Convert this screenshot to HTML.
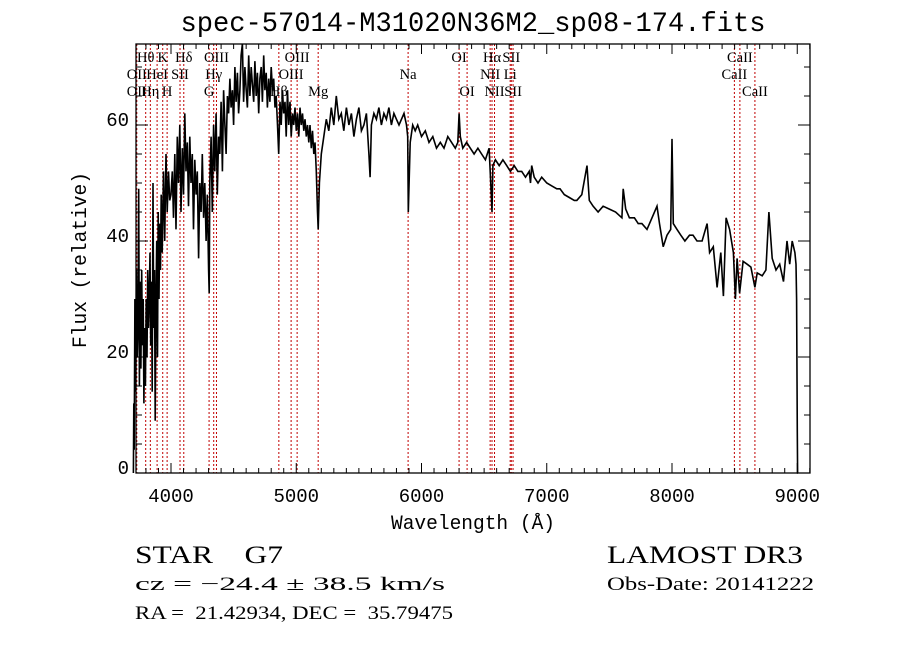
<!DOCTYPE html>
<html><head><meta charset="utf-8"><style>
html,body{margin:0;padding:0;background:#fff;}
svg{display:block;}
text{font-family:"Liberation Serif",serif;fill:#000;white-space:pre;}
.mono{font-family:"Liberation Mono",monospace;}
</style></head><body>
<svg id="chart" width="900" height="649" viewBox="0 0 900 649" xmlns="http://www.w3.org/2000/svg" xml:space="preserve">
<rect width="900" height="649" fill="#fff"/>
<text class="mono" x="473" y="31" font-size="28" text-anchor="middle" textLength="585" lengthAdjust="spacingAndGlyphs">spec-57014-M31020N36M2_sp08-174.fits</text>
<g id="lines"></g>
<g id="labels"></g>
<g id="series"></g>
<g id="axes"></g>
<text class="mono" x="473" y="529" font-size="20" text-anchor="middle" textLength="164" lengthAdjust="spacingAndGlyphs">Wavelength (Å)</text>
<text class="mono" font-size="20" text-anchor="middle" transform="translate(86,260) rotate(-90)" textLength="176" lengthAdjust="spacingAndGlyphs">Flux (relative)</text>
<text x="135" y="563" font-size="25" textLength="148" lengthAdjust="spacingAndGlyphs">STAR    G7</text>
<text x="135" y="590" font-size="19" textLength="310" lengthAdjust="spacingAndGlyphs">cz = −24.4 ± 38.5 km/s</text>
<text x="135" y="619" font-size="19" textLength="318" lengthAdjust="spacingAndGlyphs">RA =  21.42934, DEC =  35.79475</text>
<text x="607" y="563" font-size="25" textLength="196" lengthAdjust="spacingAndGlyphs">LAMOST DR3</text>
<text x="607" y="590" font-size="19" textLength="207" lengthAdjust="spacingAndGlyphs">Obs-Date: 20141222</text>
</svg>
<script>
const waves=[
3700,3703,3706,3712,3718,3724,3730,3736,3742,3748,
3754,3760,3766,3772,3778,3784,3790,3796,3802,3808,
3814,3820,3826,3832,3838,3844,3850,3856,3862,3868,
3874,3880,3886,3892,3898,3904,3910,3916,3922,3930,
3940,3950,3960,3970,3980,3990,4000,4010,4020,4030,
4040,4050,4060,4070,4080,4090,4100,4110,4120,4130,
4140,4150,4160,4170,4180,4190,4200,4210,4220,4230,
4240,4250,4260,4270,4280,4290,4300,4305,4310,4320,
4330,4340,4350,4360,4370,4380,4390,4400,4410,4420,
4430,4440,4450,4460,4470,4480,4490,4500,4510,4520,
4530,4540,4550,4560,4570,4580,4590,4600,4610,4620,
4630,4640,4650,4660,4670,4680,4690,4700,4710,4720,
4730,4740,4750,4760,4770,4780,4790,4800,4810,4820,
4830,4840,4850,4860,4870,4880,4890,4900,4910,4920,
4930,4940,4950,4960,4970,4980,4990,5000,5010,5020,
5030,5040,5050,5060,5070,5080,5090,5100,5110,5120,
5130,5140,5150,5160,5170,5175,5185,5200,5220,5240,
5260,5280,5300,5320,5340,5360,5380,5400,5420,5440,
5460,5480,5500,5520,5540,5560,5580,5590,5600,5620,
5640,5660,5680,5700,5720,5740,5760,5780,5800,5820,
5840,5860,5880,5890,5895,5910,5930,5950,5970,6000,
6030,6060,6090,6120,6150,6180,6210,6240,6270,6290,
6300,6310,6330,6360,6390,6420,6450,6480,6510,6540,
6555,6563,6570,6590,6620,6650,6680,6710,6740,6770,
6800,6830,6860,6870,6880,6900,6930,6960,7000,7040,
7080,7106,7140,7180,7220,7240,7280,7321,7340,7370,
7410,7450,7500,7550,7600,7610,7630,7660,7700,7730,
7760,7800,7840,7880,7900,7930,7960,7990,8000,8010,
8040,8070,8103,8140,8168,8200,8240,8280,8300,8330,
8360,8390,8410,8432,8460,8490,8506,8520,8540,8568,
8600,8630,8662,8680,8720,8750,8774,8800,8830,8860,
8890,8918,8940,8960,8981,8990,8995,9000,9003,9006];
const flux=[
0,12,4,30,14,35,20,25,49,15,
33,18,35,22,30,12,25,15,30,20,
35,25,30,38,22,33,14,50,25,35,
9,30,40,20,45,30,43,35,48,38,
52,40,55,45,52,47,48,52,44,55,
42,58,50,60,45,56,48,62,52,57,
46,58,50,55,42,54,48,52,37,50,
45,55,44,50,40,48,35,31,50,58,
45,60,52,62,48,58,55,64,52,66,
60,55,65,62,68,63,66,60,70,64,
69,62,66,72,74,64,70,66,63,72,
65,70,67,64,71,65,69,62,68,70,
64,72,66,69,63,68,64,70,66,68,
63,65,60,55,64,60,66,62,64,58,
66,60,64,58,62,60,63,59,62,58,
63,60,62,59,61,58,60,57,60,56,
59,55,57,52,45,42,50,55,58,61,
59,63,60,65,61,62,59,63,60,62,
58,61,63,59,60,62,55,51,60,62,
61,63,60,62,61,63,60,62,61,60,
61,62,60,58,45,57,60,59,60,58,
59,57,58,56,57,56,58,57,56,57,
62,58,56,57,56,55,56,55,54,56,
49,45,53,54,53,54,53,52,53,52,
52,51,52,50,53,51,50,51,50,49.5,
49,49,48,47.5,47,47,48,53,47,46,
45,46,45.5,45,44,49,45.5,44,44,43,
43,42,44,46,43,39,41,42,57.6,43,
42,41,40,41,41,40,40,43,38,39,
32,38,30.5,44,42,38,30,37,31,36.5,
36,35.5,32,34.5,34,35,45,37,35,36,
33,40,36,40,38,36,30,7,0,0];
const lineWaves=[3727,3798,3835,3889,3934,3969,4072,4102,4304,4341,4363,4861,4959,5007,5175,5893,6300,6364,6548,6563,6583,6708,6717,6731,8498,8542,8662];
const labelTexts=["Hθ","K","Hδ","OIII","OIII","OI","Hα","SII","CaII","OII","HeI","SII","Hγ","OIII","Na","NII","Li","CaII","OII","Hη","H","G","Hβ","Mg","OI","NII","SII","CaII"];
const labelWaves=[3798,3934,4102,4363,5007,6300,6563,6717,8542,3727,3889,4072,4341,4959,5893,6548,6708,8498,3727,3835,3969,4304,4861,5175,6364,6583,6731,8662];
const labelRows=[0,0,0,0,0,0,0,0,0,1,1,1,1,1,1,1,1,1,2,2,2,2,2,2,2,2,2,2];
const xTicks=[4000,5000,6000,7000,8000,9000];
const yTicks=[0,20,40,60];

const X0=136,X1=810,Y0=44,Y1=473;
const xs=w=>171+(w-4000)*0.12525;
const ys=v=>473-5.8*v;
const NS="http://www.w3.org/2000/svg";
function mk(tag,parent,attrs){const e=document.createElementNS(NS,tag);for(const k in attrs)e.setAttribute(k,attrs[k]);parent.appendChild(e);return e;}

const gL=document.getElementById('lines');
lineWaves.forEach(w=>{
  const l=mk('line',gL,{x1:xs(w),x2:xs(w),y1:Y0,y2:Y1,stroke:'#c00000','stroke-width':1,'stroke-dasharray':'2,2'});
  
  
});
const gT=document.getElementById('labels');
labelTexts.forEach((t,i)=>{
  const e=mk('text',gT,{x:xs(labelWaves[i]),y:62+labelRows[i]*17,'font-size':14.5,'text-anchor':'middle'});
  e.textContent=t;
  
  
});
const gS=document.getElementById('series');
const n=Math.min(waves.length,flux.length);
const pts=[];
for(let i=0;i<n;i++)pts.push(xs(waves[i]).toFixed(1)+','+ys(flux[i]).toFixed(1));
const pl=mk('polyline',gS,{points:pts.join(' '),fill:'none',stroke:'#000','stroke-width':1.6,'stroke-linejoin':'miter'});



const gA=document.getElementById('axes');
const fr=mk('rect',gA,{x:X0,y:Y0,width:X1-X0,height:Y1-Y0,fill:'none',stroke:'#000','stroke-width':1.3});


for(let w=3800;w<=9100;w+=100){
  const x=xs(w); if(x<X0||x>X1)continue;
  const maj=w%1000===0, L=maj?10:5;
  mk('line',gA,{x1:x,x2:x,y1:Y1,y2:Y1-L,stroke:'#000','stroke-width':1});
  mk('line',gA,{x1:x,x2:x,y1:Y0,y2:Y0+L,stroke:'#000','stroke-width':1});
}
for(let v=0;v<=74;v+=5){
  const y=ys(v), maj=v%20===0, L=maj?12:6;
  mk('line',gA,{x1:X0,x2:X0+L,y1:y,y2:y,stroke:'#000','stroke-width':1});
  mk('line',gA,{x1:X1,x2:X1-L,y1:y,y2:y,stroke:'#000','stroke-width':1});
}
xTicks.forEach(w=>{
  const t=mk('text',gA,{x:xs(w),y:502,'font-size':19,'text-anchor':'middle',class:'mono'});
  t.textContent=String(w);
  
  
});
yTicks.forEach(v=>{
  const t=mk('text',gA,{x:129,y:ys(v)+1,'font-size':19,'text-anchor':'end',class:'mono'});
  t.textContent=String(v);
  
  
});
</script>
</body></html>
